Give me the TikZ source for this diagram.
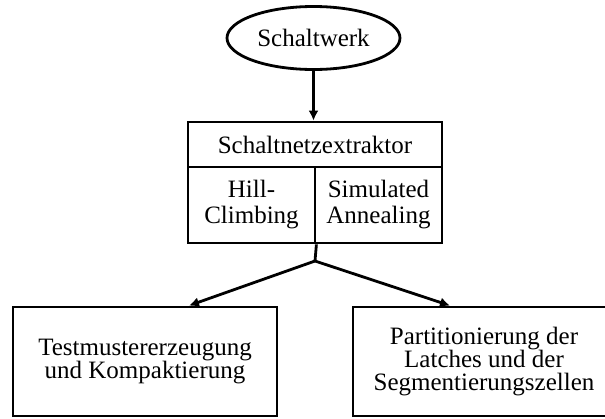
\documentclass[tikz,border=0pt]{standalone}
\usepackage{fontspec}
\setmainfont{Liberation Serif}
\usetikzlibrary{arrows.meta,shapes.geometric}

\begin{document}
\begin{tikzpicture}[
  x=0.5pt,y=-0.5pt,
  font=\fontsize{12.5}{11.7}\selectfont,
  line width=1.4pt,
  cell/.style={draw,rectangle,inner sep=0pt,align=center},
  half/.style={cell,minimum width=63.5pt,minimum height=38pt,font=\fontsize{12.5}{13}\selectfont},
  >={Latex[length=5pt,width=5pt]}
]
\useasboundingbox (0,0) rectangle (605,418);
\node[draw,ellipse,inner sep=0pt,minimum width=86.5pt,minimum height=31.5pt] (werk) at (313.5,38) {Schaltwerk};
\node[cell,minimum width=127pt,minimum height=22.5pt] (extr) at (315,144.5) {Schaltnetzextraktor};
\node[half] (hill) at (251.5,205) {Hill-\\Climbing};
\node[half] (anneal) at (378.5,205) {Simulated\\Annealing};
\node[cell,minimum width=132pt,minimum height=54.5pt] (test) at (145,361.5) {Testmustererzeugung\\und Kompaktierung};
\node[cell,minimum width=131pt,minimum height=54.5pt] (part) at (484,361.5) {Partitionierung der\\Latches und der\\Segmentierungszellen};
\coordinate (split) at (315,261);
\draw[->] (werk.south) -- (werk.south |- extr.north);
\draw (hill.south east) -- (split);
\draw[->] (split) -- ([xshift=22pt]test.north);
\draw[->] (split) -- ([xshift=-17pt]part.north);
\end{tikzpicture}
\end{document}
